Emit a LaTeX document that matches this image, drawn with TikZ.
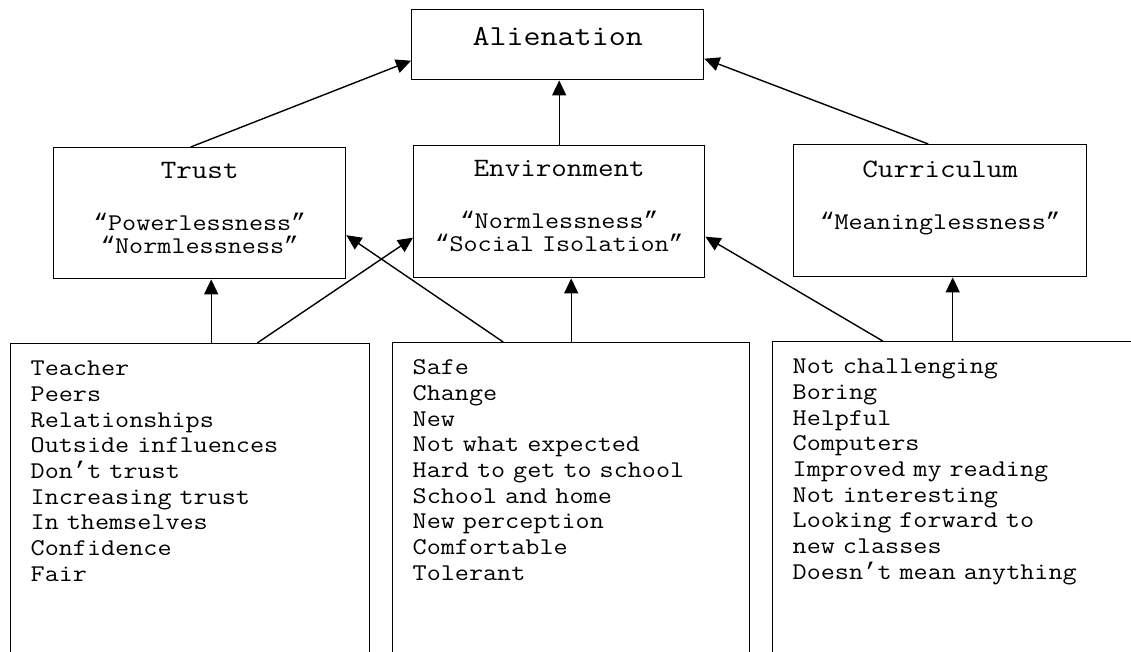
\documentclass[tikz,border=0pt]{standalone}
\usepackage{fontspec}
\setmainfont{Latin Modern Mono}[FakeStretch=1.14]
\newfontfamily\quotefont{Liberation Mono}
\usetikzlibrary{arrows.meta}
\tikzstyle{box}=[draw,line width=1.4pt,inner sep=0pt,anchor=north west,align=center,font=\fontsize{24}{23}\selectfont]
\tikzstyle{listbox}=[draw,line width=1.4pt,inner xsep=20pt,inner ysep=0pt,anchor=north west,align=left,text height=32pt,text depth=400pt,font=\fontsize{24}{25.7}\selectfont]
\tikzstyle{link}=[line width=1.4pt,-{Triangle[length=15pt,width=14pt]}]
\newcommand{\heading}[1]{{\fontsize{26.5}{23}\selectfont #1}}
\newcommand{\quoted}[1]{{\quotefont“}#1{\quotefont”}}

\begin{document}
\begin{tikzpicture}[x=1pt,y=-1pt]
\useasboundingbox (0,0) rectangle (1131,651);
\node[box,text width=292pt,text height=36pt,text depth=34pt,font=\fontsize{29}{30}\selectfont] (alien) at (411,9) {Alienation};
\node[box,text width=292pt,text height=31pt,text depth=100pt] (trust) at (53,147) {\heading{Trust}\\[29pt]\quoted{Powerlessness}\\\quoted{Normlessness}};
\node[box,text width=291pt,text height=31pt,text depth=101pt] (env) at (413,145) {\heading{Environment}\\[29pt]\quoted{Normlessness}\\\quoted{Social Isolation}};
\node[box,text width=293pt,text height=33pt,text depth=99pt] (cur) at (793,144) {\heading{Curriculum}\\[29pt]\quoted{Meaninglessness}};
\node[listbox,text width=319pt] (teach) at (10,343) {Teacher\\Peers\\Relationships\\Outside influences\\Don{\quotefont’}t trust\\Increasing trust\\In themselves\\Confidence\\Fair};
\node[listbox,text width=317pt] (envlist) at (392,342) {Safe\\Change\\New\\Not what expected\\Hard to get to school\\School and home\\New perception\\Comfortable\\Tolerant};
\node[listbox,text width=400pt] (curlist) at (772,341) {Not challenging\\Boring\\Helpful\\Computers\\Improved my reading\\Not interesting\\Looking forward to\\new classes\\Doesn{\quotefont’}t mean anything};
\draw[link] ([xshift=-9pt]trust.north) -- ([yshift=-16pt]alien.west);
\draw[link] (env.north) -- (env.north |- alien.south);
\draw[link] ([xshift=-12pt]cur.north) -- ([yshift=-14pt]alien.east);
\draw[link] ([xshift=21pt]teach.north) -- ([xshift=21pt]teach.north |- trust.south);
\draw[link] ([xshift=67pt]teach.north) -- ([yshift=-26pt]env.west);
\draw[link] ([xshift=-68pt]envlist.north) -- ([yshift=-22pt]trust.east);
\draw[link] (envlist.north) -- (envlist.north |- env.south);
\draw[link] ([xshift=-110pt]curlist.north) -- ([yshift=-25pt]env.east);
\draw[link] ([xshift=-40pt]curlist.north) -- ([xshift=-40pt]curlist.north |- cur.south);
\end{tikzpicture}
\end{document}
